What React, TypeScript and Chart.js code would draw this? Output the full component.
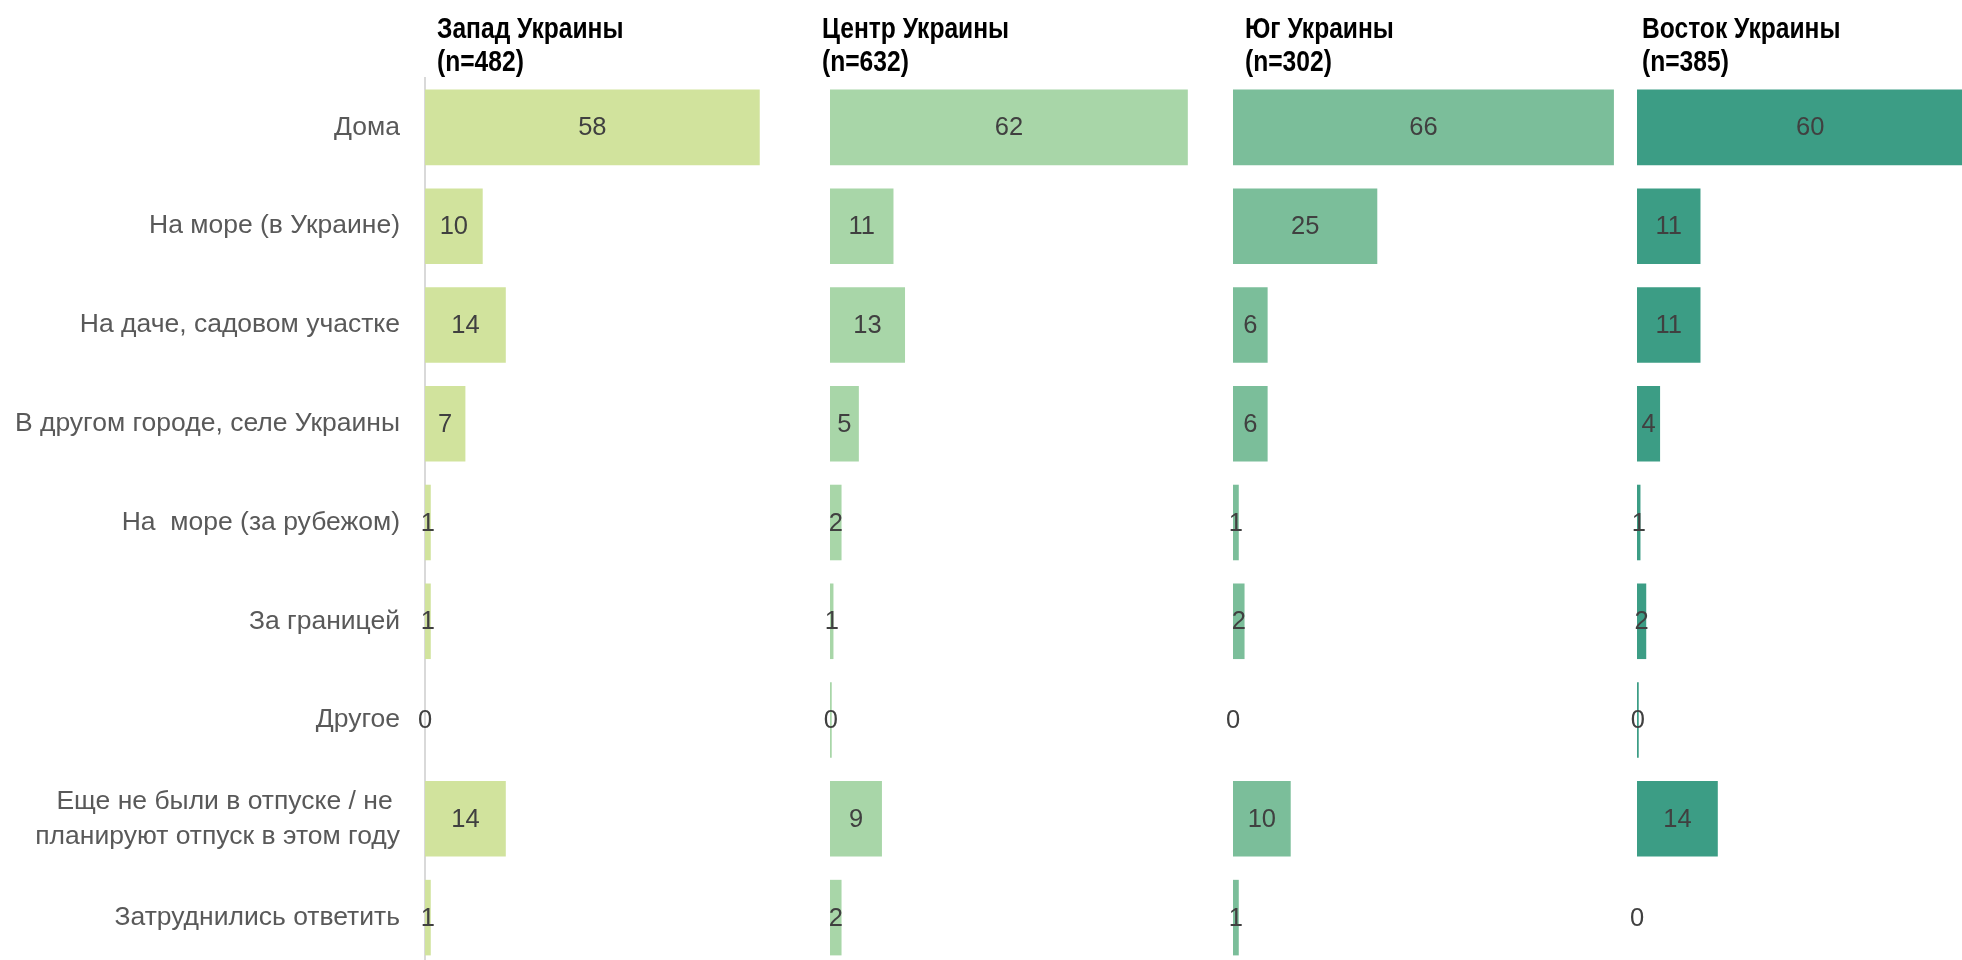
import React, { useEffect, useRef } from "react";
import { Chart, registerables } from "chart.js";

Chart.register(...registerables);

const CATEGORIES: (string | string[])[] = [
  "Дома",
  "На море (в Украине)",
  "На даче, садовом участке",
  "В другом городе, селе Украины",
  "На  море (за рубежом)",
  "За границей",
  "Другое",
  ["Еще не были в отпуске / не ", "планируют отпуск в этом году"],
  "Затруднились ответить",
];

const REGIONS = ["Запад Украины", "Центр Украины", "Юг Украины", "Восток Украины"];
const SAMPLES = ["(n=482)", "(n=632)", "(n=302)", "(n=385)"];

const WEST = [58, 10, 14, 7, 1, 1, 0, 14, 1];
const CENTER = [62, 11, 13, 5, 2, 0.6, 0.3, 9, 2];
const SOUTH = [66, 25, 6, 6, 1, 2, 0, 10, 1];
const EAST = [60, 11, 11, 4, 0.6, 1.6, 0.3, 14, 0];

const SERIES = [WEST, CENTER, SOUTH, EAST];
const COLORS = ["#D1E39D", "#A8D6A8", "#7BBE9A", "#3C9D85"];

const AXIS_MAX = 70;
const PANEL_W = 404;
const FIRST_AXIS_W = 425;
const SIDE_PAD = 30;
const CANVAS_H = 980;
const TITLE_DX = [12, -8, 12, 5];
const AXIS_LEFT = [425, 830, 1233, 1637];

function Panel({ idx }: { idx: number }) {
  const ref = useRef<HTMLCanvasElement | null>(null);
  const first = idx === 0;
  const leftPad = first ? 0 : SIDE_PAD;
  useEffect(() => {
    if (!ref.current) return;
    const labelPlugin = {
      id: "valueLabels" + idx,
      afterDatasetsDraw(chart: any) {
        const ctx = chart.ctx;
        const meta = chart.getDatasetMeta(0);
        const data = chart.data.datasets[0].data as number[];
        ctx.save();
        ctx.font = "25.5px 'Liberation Sans', Arial, sans-serif";
        ctx.fillStyle = "#404040";
        ctx.textAlign = "center";
        ctx.textBaseline = "middle";
        meta.data.forEach((bar: any, i: number) => {
          const cx = (bar.x + bar.base) / 2;
          ctx.fillText(String(Math.round(data[i])), cx, bar.y + 1);
        });
        ctx.restore();
      },
    };
    const titlePlugin = {
      id: "panelTitle" + idx,
      afterDraw(chart: any) {
        const ctx = chart.ctx;
        ctx.save();
        ctx.font = "bold 30px 'Liberation Sans', Arial, sans-serif";
        ctx.fillStyle = "#000000";
        ctx.textAlign = "left";
        ctx.textBaseline = "alphabetic";
        const x = chart.chartArea.left + TITLE_DX[idx];
        ctx.translate(x, 0);
        ctx.scale(0.82, 1);
        ctx.fillText(REGIONS[idx], 0, 38);
        ctx.fillText(SAMPLES[idx], 0, 71);
        ctx.restore();
      },
    };
    const chart = new Chart(ref.current, {
      type: "bar",
      data: {
        labels: CATEGORIES as any,
        datasets: [
          {
            data: SERIES[idx],
            backgroundColor: COLORS[idx],
            borderWidth: 0,
            categoryPercentage: 1,
            barPercentage: 0.765,
          },
        ],
      },
      options: {
        indexAxis: "y",
        responsive: false,
        animation: false,
        layout: { padding: { top: 78, bottom: CANVAS_H - 967, left: leftPad, right: 0 } },
        plugins: {
          legend: { display: false },
          tooltip: { enabled: false },
          title: { display: false },
        },
        scales: {
          x: {
            display: false,
            min: 0,
            max: AXIS_MAX,
          },
          y: {
            display: first,
            grid: { display: false, drawTicks: false },
            border: { display: first, color: "#D9D9D9", width: 2 },
            ticks: {
              padding: 25,
              color: "#595959",
              font: { family: "'Liberation Sans', Arial, sans-serif", size: 26.5, lineHeight: 1.32 },
            },
            afterFit: (scale: any) => {
              if (first) scale.width = FIRST_AXIS_W;
              scale.paddingTop = 0;
              scale.paddingBottom = 0;
            },
          },
        },
      },
      plugins: [labelPlugin, titlePlugin],
    });
    return () => chart.destroy();
  }, [idx]);
  const w = first ? FIRST_AXIS_W + PANEL_W : PANEL_W + leftPad;
  const left = first ? 0 : AXIS_LEFT[idx] - leftPad;
  return (
    <canvas
      ref={ref}
      width={w}
      height={CANVAS_H}
      style={{ position: "absolute", left, top: 0, width: w, height: CANVAS_H }}
    />
  );
}

export default function App() {
  return (
    <div
      style={{
        position: "fixed",
        left: 0,
        top: 0,
        width: 1962,
        height: 960,
        overflow: "hidden",
        background: "#ffffff",
      }}
    >
      {[0, 1, 2, 3].map((i) => (
        <Panel key={i} idx={i} />
      ))}
    </div>
  );
}
